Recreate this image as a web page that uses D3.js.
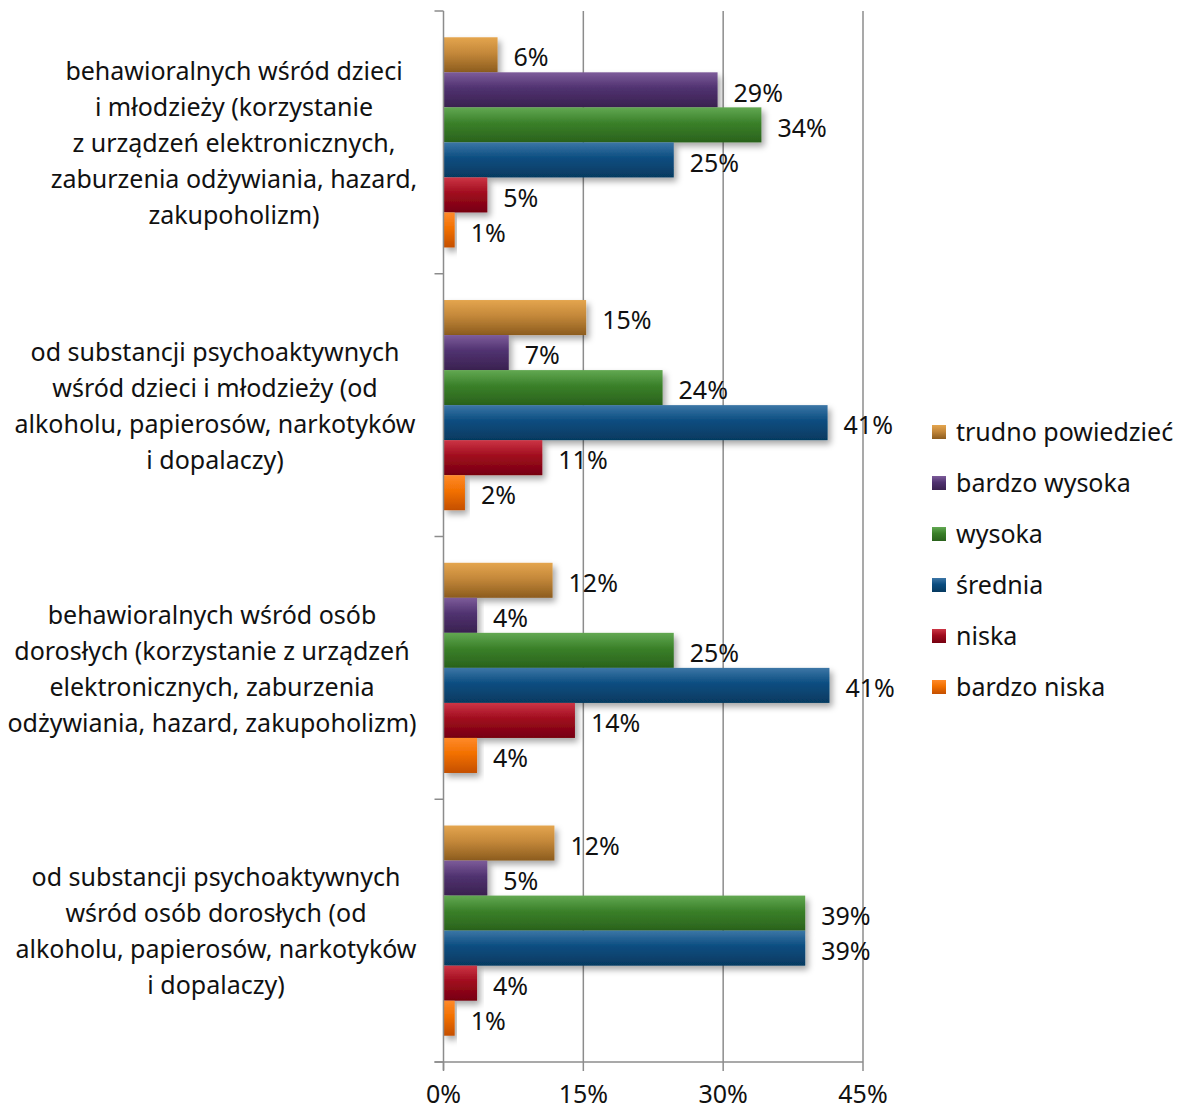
<!DOCTYPE html>
<html>
<head>
<meta charset="utf-8">
<script src="https://cdn.jsdelivr.net/npm/d3@7"></script>
<style>
  body { margin: 0; background: #fff; }
  text { font-family: "Noto Sans", "Open Sans", sans-serif; fill: #111; }
</style>
</head>
<body>
<div id="chart"></div>
<script>
// kategorie (od góry)
const categories = [
  ["behawioralnych wśród dzieci", "i młodzieży (korzystanie", "z urządzeń elektronicznych,", "zaburzenia odżywiania, hazard,", "zakupoholizm)"],
  ["od substancji psychoaktywnych", "wśród dzieci i młodzieży (od", "alkoholu, papierosów, narkotyków", "i dopalaczy)"],
  ["behawioralnych wśród osób", "dorosłych (korzystanie z urządzeń", "elektronicznych, zaburzenia", "odżywiania, hazard, zakupoholizm)"],
  ["od substancji psychoaktywnych", "wśród osób dorosłych (od", "alkoholu, papierosów, narkotyków", "i dopalaczy)"]
];
const seriesNames = ["trudno powiedzieć", "bardzo wysoka", "wysoka", "średnia", "niska", "bardzo niska"];
// wartości (długość słupka) i etykiety
const trudno      = [5.8, 15.3, 11.7, 11.9];
const bardzoWys   = [29.4, 7.0, 3.6, 4.7];
const wysoka      = [34.1, 23.5, 24.7, 38.8];
const srednia     = [24.7, 41.2, 41.4, 38.8];
const niska       = [4.7, 10.6, 14.1, 3.6];
const bardzoNiska = [1.2, 2.3, 3.6, 1.2];
const labels = [
  ["6%", "29%", "34%", "25%", "5%", "1%"],
  ["15%", "7%", "24%", "41%", "11%", "2%"],
  ["12%", "4%", "25%", "41%", "14%", "4%"],
  ["12%", "5%", "39%", "39%", "4%", "1%"]
];
const xTicks = [0, 15, 30, 45];
const colors = [
  ["#e4a54e", "#c4883a", "#8c5c1e"],
  ["#7d5c9a", "#503270", "#3a2250"],
  ["#62a852", "#3a8029", "#2a621c"],
  ["#3c76a6", "#0b4d80", "#063a60"],
  ["#cc3545", "#a00c1e", "#760010"],
  ["#ff8a2a", "#f27000", "#c44f00"]
];
const values = [trudno, bardzoWys, wysoka, srednia, niska, bardzoNiska];

const W = 1182, H = 1115;
const FS = 25;
const margin = { left: 443.5, top: 11, right: 319, bottom: 53 };
// środek etykiet kategorii (Excel zawija tekst nierówno)
const labelCenter = [234, 215, 212, 216];
const svg = d3.select("#chart").append("svg").attr("width", W).attr("height", H);

const defs = svg.append("defs");
colors.forEach((c, i) => {
  const g = defs.append("linearGradient").attr("id", "grad" + i)
    .attr("x1", 0).attr("y1", 0).attr("x2", 0).attr("y2", 1);
  g.append("stop").attr("offset", "0%").attr("stop-color", c[0]);
  g.append("stop").attr("offset", "45%").attr("stop-color", c[1]);
  g.append("stop").attr("offset", "100%").attr("stop-color", c[2]);
});
const f = defs.append("filter").attr("id", "shadow")
  .attr("x", "-10%").attr("y", "-30%").attr("width", "130%").attr("height", "180%");
f.append("feDropShadow").attr("dx", 3).attr("dy", 4).attr("stdDeviation", 3)
  .attr("flood-color", "#000").attr("flood-opacity", 0.35);

const x = d3.scaleLinear().domain([0, 45]).range([margin.left, margin.left + 419.5]);
const y = d3.scaleBand().domain(d3.range(categories.length))
  .range([margin.top, H - margin.bottom]);
const inner = d3.scaleBand().domain(d3.range(seriesNames.length))
  .range([0, y.bandwidth()]).paddingOuter(0.75).paddingInner(0);

// siatka
svg.append("g").selectAll("line").data(xTicks.slice(1)).enter().append("line")
  .attr("x1", d => x(d)).attr("x2", d => x(d))
  .attr("y1", margin.top).attr("y2", H - margin.bottom)
  .attr("stroke", "#8c8c8c").attr("stroke-width", 1.5);

// słupki
const groups = svg.append("g").selectAll("g").data(categories).enter().append("g")
  .attr("transform", (d, i) => `translate(0,${y(i)})`);

groups.each(function(cat, ci) {
  const g = d3.select(this);
  seriesNames.forEach((s, si) => {
    const v = values[si][ci];
    g.append("rect")
      .attr("x", x(0)).attr("y", inner(si))
      .attr("width", x(v) - x(0)).attr("height", inner.bandwidth())
      .attr("fill", `url(#grad${si})`)
      .attr("filter", "url(#shadow)");
  });
  seriesNames.forEach((s, si) => {
    const v = values[si][ci];
    g.append("text")
      .attr("x", x(v) + 16).attr("y", inner(si) + inner.bandwidth() / 2 + 5)
      .attr("dominant-baseline", "middle")
      .attr("font-size", FS)
      .text(labels[ci][si]);
  });
  // etykieta kategorii
  const lh = 36;
  const cy = y.bandwidth() / 2 + 3;
  const t = g.append("text").attr("text-anchor", "middle").attr("font-size", FS);
  cat.forEach((line, li) => {
    t.append("tspan").attr("x", labelCenter[ci])
      .attr("y", cy + (li - (cat.length - 1) / 2) * lh)
      .attr("dominant-baseline", "middle")
      .text(line);
  });
});

// osie
const axisColor = "#8c8c8c";
const yAxis = svg.append("g");
yAxis.append("line").attr("x1", x(0)).attr("x2", x(0))
  .attr("y1", margin.top).attr("y2", H - margin.bottom + 8)
  .attr("stroke", axisColor).attr("stroke-width", 1.5);
yAxis.selectAll(".tk").data(d3.range(categories.length + 1)).enter().append("line")
  .attr("x1", x(0) - 9).attr("x2", x(0))
  .attr("y1", d => margin.top + d * y.bandwidth())
  .attr("y2", d => margin.top + d * y.bandwidth())
  .attr("stroke", axisColor).attr("stroke-width", 1.5);

const xAxis = svg.append("g");
xAxis.append("line").attr("x1", x(0) - 9).attr("x2", x(45))
  .attr("y1", H - margin.bottom).attr("y2", H - margin.bottom)
  .attr("stroke", axisColor).attr("stroke-width", 1.5);
xAxis.selectAll(".tk").data(xTicks).enter().append("line")
  .attr("x1", d => x(d)).attr("x2", d => x(d))
  .attr("y1", H - margin.bottom).attr("y2", H - margin.bottom + 9)
  .attr("stroke", axisColor).attr("stroke-width", 1.5);
xAxis.selectAll("text").data(xTicks).enter().append("text")
  .attr("x", d => x(d)).attr("y", H - 12)
  .attr("text-anchor", "middle").attr("font-size", FS)
  .text(d => d + "%");

// legenda
const legend = svg.append("g").attr("transform", "translate(932,432)");
seriesNames.forEach((s, i) => {
  const row = legend.append("g").attr("transform", `translate(0,${i * 51})`);
  row.append("rect").attr("x", 0).attr("y", -7).attr("width", 14).attr("height", 14)
    .attr("fill", `url(#grad${i})`);
  row.append("text").attr("x", 24).attr("y", 2)
    .attr("dominant-baseline", "middle").attr("font-size", FS).text(s);
});
</script>
</body>
</html>
